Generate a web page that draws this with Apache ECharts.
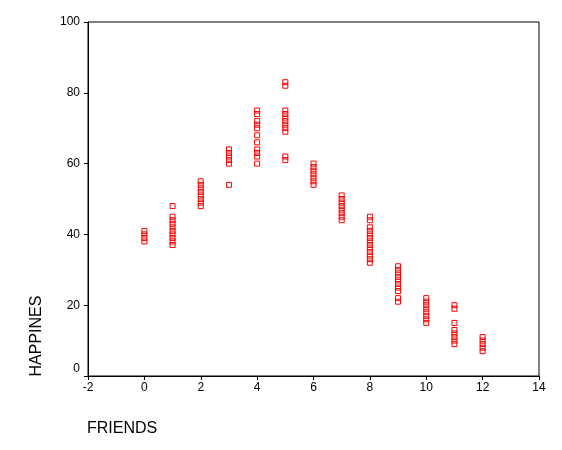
<!DOCTYPE html>
<html>
<head>
<meta charset="utf-8">
<script src="https://cdn.jsdelivr.net/npm/echarts@6/dist/echarts.min.js"></script>
<style>html,body{margin:0;padding:0;background:#fff;}#c{width:562px;height:450px;}</style>
</head>
<body>
<div id="c"></div>
<script>
// FRIENDS value -> list of HAPPINES values
var friends = [0, 1, 2, 3, 4, 5, 6, 7, 8, 9, 10, 11, 12];
var happ0  = [38, 39, 40, 41];
var happ1  = [37, 38, 39, 40, 41, 42, 43, 44, 45, 48];
var happ2  = [48, 49, 50, 51, 52, 53, 54, 55];
var happ3  = [54, 60, 61, 62, 63, 64];
var happ4  = [60, 62, 63, 64, 66, 68, 70, 71, 72, 74, 75];
var happ5  = [61, 62, 69, 70, 71, 72, 73, 74, 75, 82, 83];
var happ6  = [54, 55, 56, 57, 58, 59, 60];
var happ7  = [44, 45, 46, 47, 48, 49, 50, 51];
var happ8  = [32, 33, 34, 35, 36, 37, 38, 39, 40, 41, 42, 44, 45];
var happ9  = [21, 22, 24, 25, 26, 27, 28, 29, 30, 31];
var happ10 = [15, 16, 17, 18, 19, 20, 21, 22];
var happ11 = [9, 10, 11, 12, 13, 15, 19, 20];
var happ12 = [7, 8, 9, 10, 11];
var happAll = [happ0, happ1, happ2, happ3, happ4, happ5, happ6, happ7, happ8, happ9, happ10, happ11, happ12];

var xTicks = [-2, 0, 2, 4, 6, 8, 10, 12, 14];
var yTicks = [0, 20, 40, 60, 80, 100];

var pts = [];
friends.forEach(function (f, i) {
  happAll[i].forEach(function (h) { pts.push([f, h]); });
});

var chart = echarts.init(document.getElementById('c'));
var font = '"Liberation Sans", Arial, sans-serif';
chart.setOption({
  animation: false,
  backgroundColor: '#fff',
  grid: { left: 88, right: 23, top: 22, bottom: 74, show: true, borderColor: '#000', borderWidth: 1 },
  xAxis: {
    type: 'value', min: xTicks[0], max: xTicks[xTicks.length - 1], interval: 2,
    splitLine: { show: false },
    axisLine: { show: true, onZero: false, lineStyle: { color: '#000', width: 1 } },
    axisTick: { show: true, length: 4, lineStyle: { color: '#000' } },
    axisLabel: { color: '#000', fontSize: 12, fontFamily: font, margin: 6 }
  },
  yAxis: {
    type: 'value', min: yTicks[0], max: yTicks[yTicks.length - 1], interval: 20,
    splitLine: { show: false },
    axisLine: { show: true, onZero: false, lineStyle: { color: '#000', width: 1 } },
    axisTick: { show: true, length: 4, lineStyle: { color: '#000' } },
    axisLabel: {
      color: '#000', fontSize: 12, fontFamily: font, margin: 8,
      formatter: function (v) { return v === 0 ? '{z|0}' : String(v); },
      rich: { z: { color: '#000', fontSize: 12, fontFamily: font, padding: [0, 0, 15, 0] } }
    }
  },
  graphic: [
    { type: 'text', x: 37, y: 336, rotation: Math.PI / 2,
      style: { text: 'HAPPINES', fill: '#000', font: '16px ' + font, textAlign: 'center', textVerticalAlign: 'middle' } },
    { type: 'text', x: 87, y: 429,
      style: { text: 'FRIENDS', fill: '#000', font: '16px ' + font, textAlign: 'left', textVerticalAlign: 'middle' } }
  ],
  series: [{
    type: 'scatter',
    data: pts,
    symbol: 'rect',
    symbolSize: 5,
    itemStyle: { color: 'rgba(0,0,0,0)', borderColor: '#ff0000', borderWidth: 1, opacity: 1 }
  }]
});
</script>
</body>
</html>
